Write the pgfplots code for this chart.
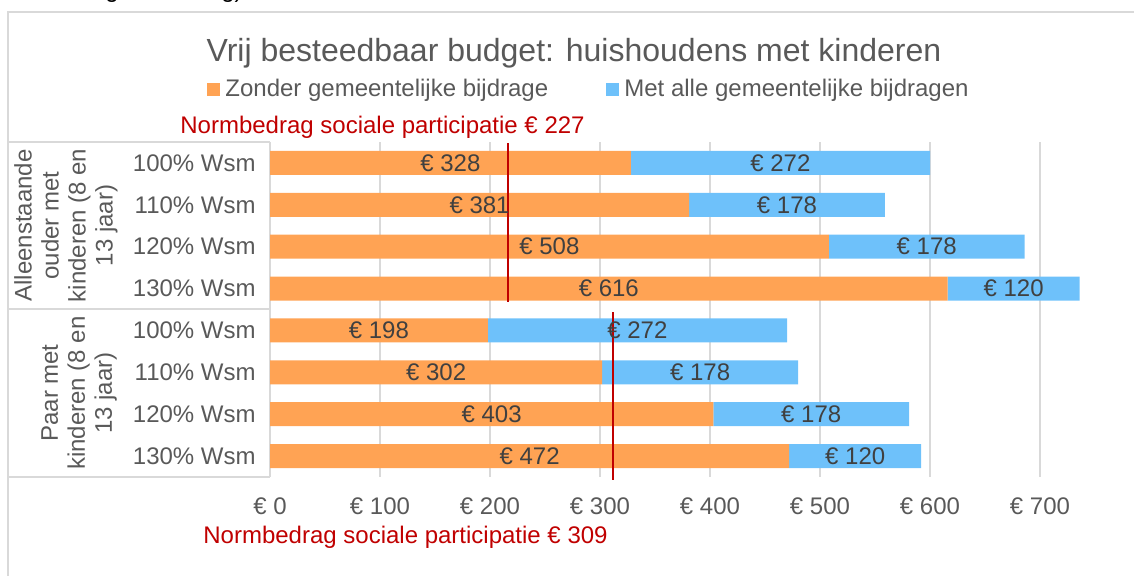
\documentclass[border=0pt]{standalone}
\usepackage{pgfplots}
\pgfplotsset{compat=1.18}
\usepackage{fontspec}
\setmainfont{Liberation Sans}
\definecolor{borange}{HTML}{FFA354}
\definecolor{bblue}{HTML}{6EC1FA}
\definecolor{gridg}{HTML}{D9D9D9}
\definecolor{txtg}{HTML}{595959}
\definecolor{lblg}{HTML}{404040}
\definecolor{nred}{HTML}{C00000}
\newcommand\fz{\fontsize{12}{14.4}\selectfont}
\pgfplotsset{common/.style={
  at={(135pt,-238.5pt)}, anchor=south west, scale only axis,
  width=409.75pt, height=167.5pt,
  xmin=0, xmax=745, ymin=-0.5, ymax=7.5, y dir=reverse,
}}
\begin{document}
\begin{tikzpicture}
\useasboundingbox (0,0) rectangle (567pt,-288pt);
\begin{scope}
\clip (0,0) rectangle (567pt,-288pt);
\draw[gridg, line width=1pt] (4pt,-6pt) rectangle (600pt,-320pt);
\node[anchor=base, font=\fz, inner sep=0pt] at (56pt,1pt) {g};
\node[anchor=base, font=\fz, inner sep=0pt] at (116pt,1pt) {g)};
\end{scope}
% title and legend
\node[anchor=base, font=\fontsize{16}{19}\selectfont, text=txtg, inner sep=0pt] at (287pt,-31pt) {Vrij besteedbaar budget: huishoudens met kinderen};
\fill[borange] (103.5pt,-41.5pt) rectangle (110pt,-48pt);
\node[anchor=base west, font=\fz, text=txtg, inner sep=0pt] at (112.5pt,-48.5pt) {Zonder gemeentelijke bijdrage};
\fill[bblue] (303pt,-41.5pt) rectangle (309.5pt,-48pt);
\node[anchor=base west, font=\fz, text=txtg, inner sep=0pt] at (312pt,-48.5pt) {Met alle gemeentelijke bijdragen};
\node[anchor=base west, font=\fz, text=nred, inner sep=0pt] at (90pt,-67pt) {Normbedrag sociale participatie € 227};
\node[anchor=base west, font=\fz, text=nred, inner sep=0pt] at (101.5pt,-271.5pt) {Normbedrag sociale participatie € 309};
% category box
\draw[gridg, line width=1pt] (4pt,-71pt) -- (135pt,-71pt);
\draw[gridg, line width=1pt] (4pt,-154.5pt) -- (135pt,-154.5pt);
\draw[gridg, line width=1pt] (4pt,-238.5pt) -- (135pt,-238.5pt);
\draw[gridg, line width=1pt] (135pt,-71pt) -- (135pt,-238.5pt);
\node[rotate=90, align=center, font=\fontsize{12}{13.5}\selectfont, text=txtg] at (33pt,-112.75pt) {Alleenstaande\\ouder met\\kinderen (8 en\\13 jaar)};
\node[rotate=90, align=center, font=\fontsize{12}{13.5}\selectfont, text=txtg] at (39.5pt,-196.5pt) {Paar met\\kinderen (8 en\\13 jaar)};
\begin{axis}[common, xbar stacked, bar width=12pt,
  axis line style={draw=none}, tick style={draw=none},
  xmajorgrids, grid style={gridg, line width=1pt},
  xtick={0,100,...,700},
  xticklabels={€ 0,€ 100,€ 200,€ 300,€ 400,€ 500,€ 600,€ 700},
  xticklabel style={font=\fz, text=txtg, anchor=base, yshift=-18.5pt},
  ytick={0,...,7},
  yticklabels={100\% Wsm,110\% Wsm,120\% Wsm,130\% Wsm,100\% Wsm,110\% Wsm,120\% Wsm,130\% Wsm},
  yticklabel style={font=\fz, text=txtg, anchor=east, inner sep=0pt, xshift=-7pt},
]
\addplot[fill=borange, draw=none] coordinates {(328,0) (381,1) (508,2) (616,3) (198,4) (302,5) (403,6) (472,7)};
\addplot[fill=bblue, draw=none] coordinates {(272,0) (178,1) (178,2) (120,3) (272,4) (178,5) (178,6) (120,7)};
\end{axis}
\begin{axis}[common, hide axis, clip=false]
\addplot[draw=none, mark=none, nodes near coords, point meta=explicit symbolic,
  every node near coord/.style={font=\fz, text=lblg, anchor=center, inner sep=0pt}]
  coordinates {(164,0) [€ 328] (190.5,1) [€ 381] (254,2) [€ 508] (308,3) [€ 616]
               (99,4) [€ 198] (151,5) [€ 302] (201.5,6) [€ 403] (236,7) [€ 472]
               (464,0) [€ 272] (470,1) [€ 178] (597,2) [€ 178] (676,3) [€ 120]
               (334,4) [€ 272] (391,5) [€ 178] (492,6) [€ 178] (532,7) [€ 120]};
\addplot[nred, line width=1pt] coordinates {(216,-0.476) (216,3.321)};
\addplot[nred, line width=1pt] coordinates {(312,3.56) (312,7.572)};
\end{axis}
\end{tikzpicture}
\end{document}
